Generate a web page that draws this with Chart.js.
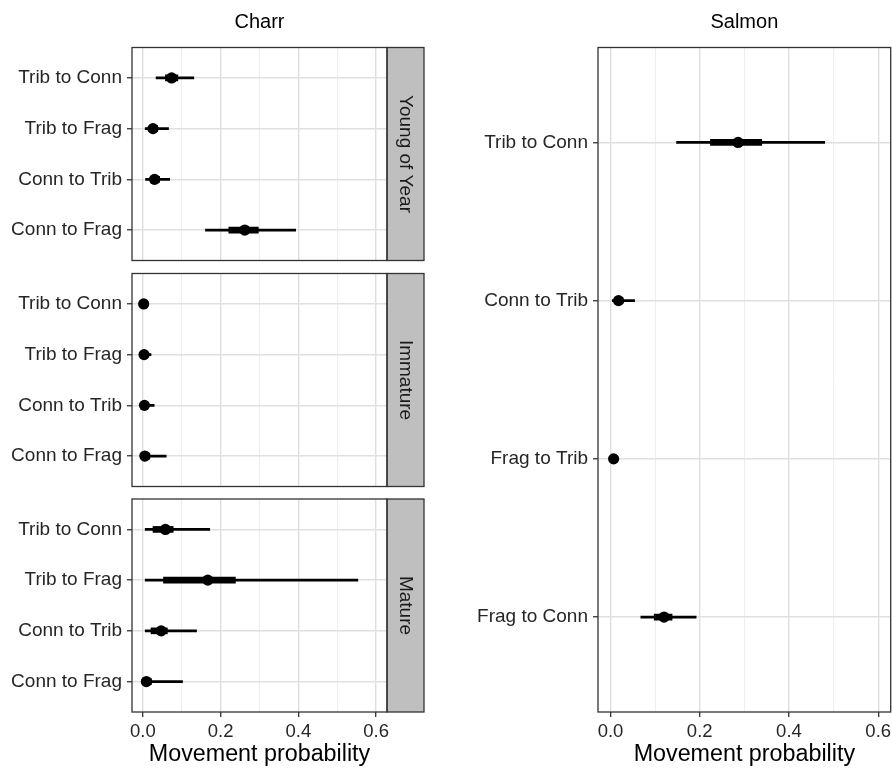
<!DOCTYPE html>
<html>
<head>
<meta charset="utf-8">
<script src="https://cdn.jsdelivr.net/npm/chart.js@4.4.1/dist/chart.umd.min.js"></script>
<style>
  body { margin: 0; background: #fff; width: 892px; height: 768px; position: relative; overflow: hidden; }
  canvas { position: absolute; }
</style>
</head>
<body>
<canvas id="yoy" width="430" height="286" style="left:0;top:0"></canvas>
<canvas id="imm" width="430" height="262" style="left:0;top:250px"></canvas>
<canvas id="mat" width="430" height="293" style="left:0;top:475px"></canvas>
<canvas id="salmon" width="470" height="768" style="left:440px;top:0"></canvas>
<script>
// categories
const charrCats = ['Trib to Conn', 'Trib to Frag', 'Conn to Trib', 'Conn to Frag'];
const salmonCats = ['Trib to Conn', 'Conn to Trib', 'Frag to Trib', 'Frag to Conn'];
const xMajor = [0, 0.2, 0.4, 0.6];
const xMinor = [0.1, 0.3, 0.5];

// Charr - Young of Year
const yoyMed  = [0.074, 0.026, 0.030, 0.262];
const yoyLo50 = [0.058, 0.016, 0.019, 0.221];
const yoyHi50 = [0.090, 0.038, 0.043, 0.297];
const yoyLo95 = [0.034, 0.006, 0.007, 0.161];
const yoyHi95 = [0.131, 0.066, 0.069, 0.393];

// Charr - Immature
const immMed  = [0.002, 0.003, 0.004, 0.005];
const immLo50 = [0.001, 0.001, 0.001, 0.002];
const immHi50 = [0.005, 0.008, 0.011, 0.018];
const immLo95 = [0.000, 0.000, 0.000, 0.001];
const immHi95 = [0.010, 0.021, 0.029, 0.060];

// Charr - Mature
const matMed  = [0.058, 0.167, 0.047, 0.009];
const matLo50 = [0.026, 0.053, 0.021, 0.004];
const matHi50 = [0.078, 0.238, 0.063, 0.022];
const matLo95 = [0.006, 0.006, 0.006, 0.002];
const matHi95 = [0.172, 0.553, 0.138, 0.102];

// Salmon
const salMed  = [0.286, 0.018, 0.007, 0.120];
const salLo50 = [0.224, 0.010, 0.004, 0.098];
const salHi50 = [0.339, 0.028, 0.010, 0.138];
const salLo95 = [0.148, 0.004, 0.002, 0.068];
const salHi95 = [0.480, 0.054, 0.014, 0.192];

Chart.defaults.font.family = '"Liberation Sans", Arial, sans-serif';
Chart.defaults.animation = false;

const isMajor = v => Math.round(v * 10) % 2 === 0;

const panelDeco = {
  id: 'panelDeco',
  afterDraw(chart, args, opts) {
    const ctx = chart.ctx;
    const a = chart.chartArea;
    ctx.save();
    if (opts.strip) {
      ctx.fillStyle = '#bfbfbf';
      ctx.fillRect(a.right, a.top, 37, a.bottom - a.top);
      ctx.strokeStyle = '#333';
      ctx.lineWidth = 1.3;
      ctx.strokeRect(a.right, a.top, 37, a.bottom - a.top);
      ctx.save();
      ctx.translate(a.right + 18.5, (a.top + a.bottom) / 2);
      ctx.rotate(Math.PI / 2);
      ctx.fillStyle = '#1a1a1a';
      ctx.font = '19px "Liberation Sans", Arial, sans-serif';
      ctx.textAlign = 'center';
      ctx.textBaseline = 'middle';
      ctx.fillText(opts.strip, 0, 0);
      ctx.restore();
    }
    ctx.strokeStyle = '#333';
    ctx.lineWidth = 1.3;
    ctx.strokeRect(a.left, a.top, a.right - a.left, a.bottom - a.top);
    if (opts.title) {
      ctx.fillStyle = '#000';
      ctx.font = '20px "Liberation Sans", Arial, sans-serif';
      ctx.textAlign = 'center';
      ctx.textBaseline = 'middle';
      ctx.fillText(opts.title, (a.left + a.right) / 2, 22.5);
    }
    ctx.restore();
  }
};

function makePanel(id, cats, med, lo50, hi50, lo95, hi95, o) {
  const outer = cats.map((c, i) => ({ y: i, x: [lo95[i], hi95[i]] }));
  const inner = cats.map((c, i) => ({ y: i, x: [lo50[i], hi50[i]] }));
  const pts = cats.map((c, i) => ({ y: i, x: med[i] }));

  const config = {
    type: 'bar',
    data: {
      datasets: [
        { type: 'scatter', data: pts, backgroundColor: '#000', borderWidth: 0, pointRadius: 5.6, showLine: false },
        { data: inner, backgroundColor: '#000', barThickness: 6, grouped: false, borderWidth: 0 },
        { data: outer, backgroundColor: '#000', barThickness: 2, grouped: false, borderWidth: 0 }
      ]
    },
    options: {
      indexAxis: 'y',
      responsive: false,
      maintainAspectRatio: false,
      layout: { padding: o.padding },
      plugins: {
        legend: { display: false },
        tooltip: { enabled: false },
        panelDeco: { strip: o.strip, title: o.title }
      },
      scales: {
        x: {
          type: 'linear',
          min: -0.028,
          max: 0.628,
          offset: false,
          border: { display: false },
          afterBuildTicks: s => { s.ticks = xMajor.concat(xMinor).sort((a, b) => a - b).map(v => ({ value: v })); },
          afterFit: s => { s.height = o.xAxis ? 56 : 0; },
          grid: {
            offset: false,
            color: c => isMajor(c.tick.value) ? '#dedede' : '#ececec',
            lineWidth: c => isMajor(c.tick.value) ? 1.4 : 0.9,
            drawTicks: !!o.xAxis,
            tickLength: 5,
            tickWidth: 1.3,
            tickColor: c => isMajor(c.tick.value) ? '#333' : 'rgba(0,0,0,0)'
          },
          ticks: {
            display: !!o.xAxis,
            autoSkip: false,
            maxRotation: 0,
            padding: 4,
            color: '#262626',
            font: { size: 18.5 },
            callback: v => isMajor(v) ? v.toFixed(1) : ''
          },
          title: {
            display: !!o.xAxis,
            text: 'Movement probability',
            color: '#000',
            font: { size: 23.3 },
            padding: { top: 0, bottom: -1 }
          }
        },
        y: {
          type: 'linear',
          min: -0.6,
          max: cats.length - 0.4,
          reverse: true,
          offset: false,
          border: { display: false },
          afterBuildTicks: s => { s.ticks = cats.map((c, i) => ({ value: i })); },
          afterFit: s => { s.width = o.yWidth; },
          grid: {
            offset: false,
            color: '#e0e0e0',
            lineWidth: 1.5,
            tickLength: 5,
            tickWidth: 1.3,
            tickColor: '#333'
          },
          ticks: {
            autoSkip: false,
            padding: 5,
            color: '#262626',
            font: { size: 19 },
            callback: v => cats[v]
          }
        }
      }
    },
    plugins: [panelDeco]
  };
  return new Chart(document.getElementById(id), config);
}

makePanel('yoy', charrCats, yoyMed, yoyLo50, yoyHi50, yoyLo95, yoyHi95,
  { padding: { top: 47.5, right: 43, bottom: 25.5, left: 0 }, yWidth: 132, strip: 'Young of Year', title: 'Charr' });
makePanel('imm', charrCats, immMed, immLo50, immHi50, immLo95, immHi95,
  { padding: { top: 23.5, right: 43, bottom: 25.5, left: 0 }, yWidth: 132, strip: 'Immature' });
makePanel('mat', charrCats, matMed, matLo50, matHi50, matLo95, matHi95,
  { padding: { top: 24, right: 43, bottom: 0, left: 0 }, yWidth: 132, strip: 'Mature', xAxis: true });
makePanel('salmon', salmonCats, salMed, salLo50, salHi50, salLo95, salHi95,
  { padding: { top: 47.5, right: 19.3, bottom: 0, left: 0 }, yWidth: 158, title: 'Salmon', xAxis: true });
</script>
</body>
</html>
